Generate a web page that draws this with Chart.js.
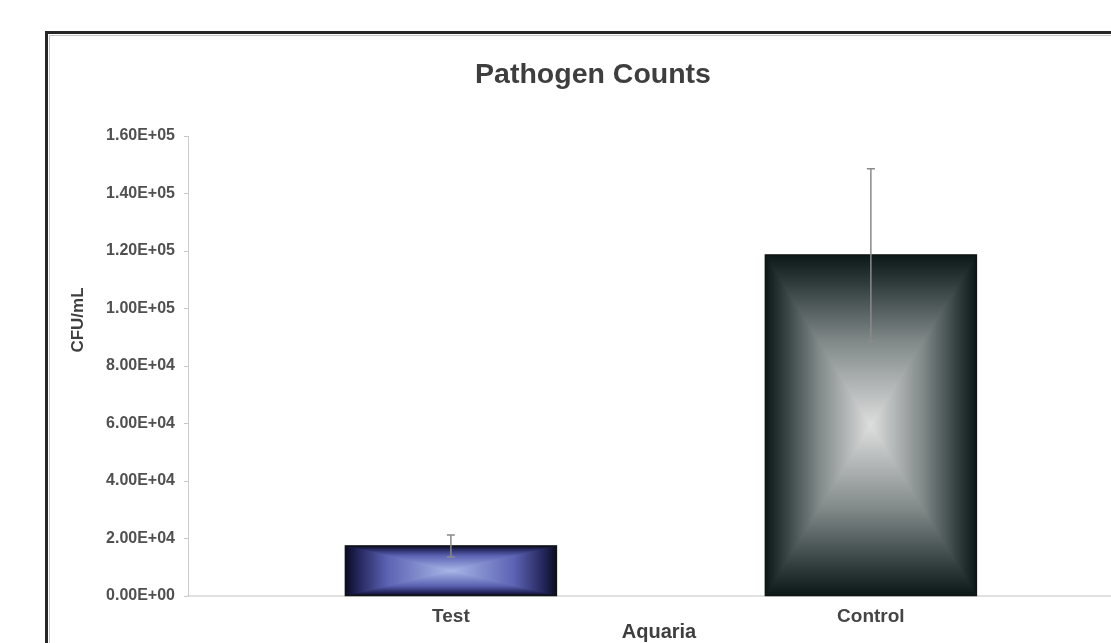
<!DOCTYPE html>
<html>
<head>
<meta charset="utf-8">
<script src="https://cdn.jsdelivr.net/npm/chart.js@4.4.1/dist/chart.umd.min.js"></script>
<style>
  html, body { margin: 0; padding: 0; background: #ffffff; overflow: hidden; }
  #wrap { width: 1140px; height: 660px; }
</style>
</head>
<body>
<div id="wrap"><canvas id="c" width="1140" height="660"></canvas></div>
<script>
// ---- data ----
const categories = ['Test', 'Control'];
const means = [17400, 118600];
const errors = [3800, 30000];
const yTickLabels = ['0.00E+00', '2.00E+04', '4.00E+04', '6.00E+04', '8.00E+04',
                     '1.00E+05', '1.20E+05', '1.40E+05', '1.60E+05'];
const chartTitle = 'Pathogen Counts';
const xTitle = 'Aquaria';
const yTitle = 'CFU/mL';

// ---- styles ----
const FONT = "'Liberation Sans', Arial, sans-serif";
const gradientStops = [
  [[0, '#0c0c22'], [0.12, '#23255a'], [0.4, '#5c63b4'], [1, '#a8b6e6']],
  [[0, '#0c1818'], [0.15, '#2c3838'], [0.5, '#7f8787'], [1, '#dedede']]
];

const framePlugin = {
  id: 'frame',
  beforeDraw(chart) {
    const ctx = chart.ctx;
    ctx.save();
    ctx.fillStyle = '#ffffff';
    ctx.fillRect(0, 0, chart.width, chart.height);
    ctx.strokeStyle = '#c4c4c4';
    ctx.lineWidth = 1;
    ctx.strokeRect(49.5, 35.5, chart.width + 20, chart.height + 20);
    ctx.strokeStyle = '#262626';
    ctx.lineWidth = 3;
    ctx.strokeRect(46.5, 32.5, chart.width + 20, chart.height + 20);
    ctx.restore();
  },
  afterDraw(chart) {
    // rotated y-axis title, placed as in the reference (above axis centre)
    const ctx = chart.ctx;
    ctx.save();
    ctx.translate(78, 320);
    ctx.rotate(-Math.PI / 2);
    ctx.fillStyle = '#3e3e3e';
    ctx.font = "bold 17px " + FONT;
    ctx.textAlign = 'center';
    ctx.textBaseline = 'middle';
    ctx.fillText(yTitle, 0, 0);
    ctx.restore();
  }
};

function symGrad(ctx, x0, y0, x1, y1, stops) {
  // edge -> centre -> edge
  const g = ctx.createLinearGradient(x0, y0, x1, y1);
  stops.forEach(s => g.addColorStop(s[1 - 1] / 2, s[1]));
  stops.slice().reverse().forEach(s => g.addColorStop(1 - s[0] / 2, s[1]));
  return g;
}

const barFillPlugin = {
  id: 'barFill',
  afterDatasetsDraw(chart) {
    const ctx = chart.ctx;
    const meta = chart.getDatasetMeta(0);
    const yScale = chart.scales.y;
    ctx.save();
    meta.data.forEach((el, i) => {
      const p = el.getProps(['x', 'y', 'base', 'width'], true);
      const L = p.x - p.width / 2, R = p.x + p.width / 2;
      const T = Math.min(p.y, p.base), B = Math.max(p.y, p.base);
      const cx = p.x, cy = (T + B) / 2;
      const st = gradientStops[i];
      // full rect with horizontal gradient
      ctx.fillStyle = symGrad(ctx, L, 0, R, 0, st);
      ctx.fillRect(L, T, R - L, B - T);
      // top & bottom triangles with vertical gradient
      const vg = symGrad(ctx, 0, T, 0, B, st);
      ctx.fillStyle = vg;
      ctx.beginPath(); ctx.moveTo(L, T); ctx.lineTo(R, T); ctx.lineTo(cx, cy); ctx.closePath(); ctx.fill();
      ctx.beginPath(); ctx.moveTo(L, B); ctx.lineTo(R, B); ctx.lineTo(cx, cy); ctx.closePath(); ctx.fill();
      ctx.strokeStyle = '#101414';
      ctx.lineWidth = 1.5;
      ctx.strokeRect(L, T, R - L, B - T);

      // error bar
      const yHi = yScale.getPixelForValue(means[i] + errors[i]);
      const yLo = yScale.getPixelForValue(means[i] - errors[i]);
      ctx.strokeStyle = '#8a8a8a';
      ctx.lineWidth = 1.5;
      ctx.beginPath();
      ctx.moveTo(cx, yHi); ctx.lineTo(cx, yLo);
      ctx.moveTo(cx - 4, yHi); ctx.lineTo(cx + 4, yHi);
      ctx.moveTo(cx - 4, yLo); ctx.lineTo(cx + 4, yLo);
      ctx.stroke();
    });
    ctx.restore();
  }
};

new Chart(document.getElementById('c'), {
  type: 'bar',
  data: {
    datasets: [{
      data: categories.map((c, i) => ({ x: i, y: means[i] })),
      backgroundColor: '#333333',
      borderWidth: 0,
      barThickness: 211
    }]
  },
  options: {
    responsive: false,
    animation: false,
    devicePixelRatio: 1,
    layout: { padding: { left: 56, right: 10, top: 0, bottom: 16 } },
    plugins: {
      legend: { display: false },
      tooltip: { enabled: false },
      title: {
        display: true,
        text: chartTitle,
        color: '#3e3e3e',
        font: { family: FONT, size: 28.5, weight: 'bold' },
        padding: { top: 58, bottom: 43.8 }
      }
    },
    scales: {
      x: {
        type: 'linear',
        offset: false,
        min: -0.626,
        max: 1.617,
        afterBuildTicks: (scale) => { scale.ticks = categories.map((c, i) => ({ value: i })); },
        afterFit: (scale) => { scale.height = 48; },
        grid: { display: false },
        border: { display: true, color: '#e0e0e0', width: 2 },
        ticks: {
          padding: 1,
          color: '#454545',
          font: { family: FONT, size: 19, weight: 'bold' },
          callback: (v) => categories[v]
        },
        title: {
          display: true,
          text: xTitle,
          color: '#3e3e3e',
          font: { family: FONT, size: 20, weight: 'bold' },
          padding: 0
        }
      },
      y: {
        min: 0,
        max: 160000,
        afterFit: (scale) => { scale.width = 132; },
        grid: { display: true, drawOnChartArea: false, drawTicks: true, tickLength: 4, color: '#c8c8c8' },
        border: { display: true, color: '#cccccc', width: 1 },
        ticks: {
          stepSize: 20000,
          padding: 9,
          color: '#505050',
          font: { family: FONT, size: 16, weight: 'bold' },
          callback: (v, i) => yTickLabels[i]
        },
        title: { display: false }
      }
    }
  },
  plugins: [framePlugin, barFillPlugin]
});
</script>
</body>
</html>
